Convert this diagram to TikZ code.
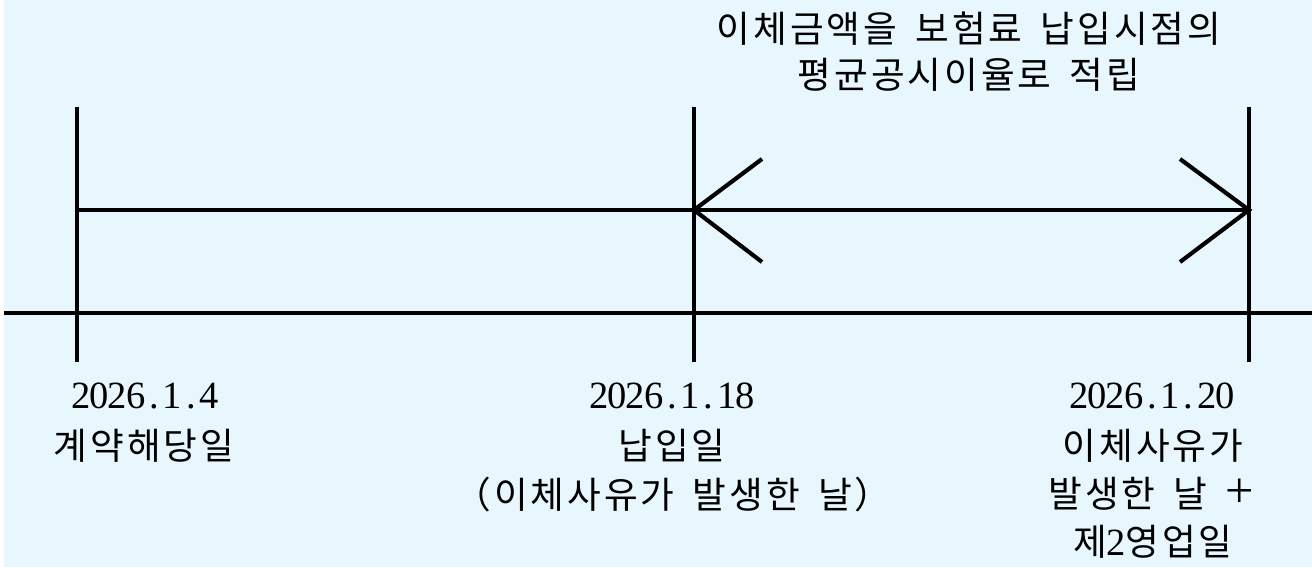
\documentclass[tikz,border=0pt]{standalone}
\usepackage{fontspec}
\setmainfont{Liberation Serif}
\newfontfamily\kr[LetterSpace=8]{Noto Sans CJK KR}
\newfontfamily\dg[Scale=1.05]{Liberation Serif}
\definecolor{bg}{RGB}{232,246,254}
\newcommand\hw[1]{\makebox[0.5em]{\dg #1}}
\newcommand\hsp{\hspace{0.5em}}
\begin{document}
\begin{tikzpicture}[x=0.75pt,y=-0.75pt,
  ln/.style={line width=3.1pt,black},
  lbl/.style={anchor=base,inner sep=0pt,font=\kr\fontsize{27.5}{33}\selectfont}]
\useasboundingbox (0,0) rectangle (1312,567);
\fill[white] (0,0) rectangle (1312,567);
\fill[bg] (4,0) rectangle (1312,567);
% coordinates
\coordinate (axL) at (4,313);
\coordinate (axR) at (1312,313);
\coordinate (aT) at (77,107);  \coordinate (aB) at (77,362);
\coordinate (bT) at (694,107); \coordinate (bB) at (694,362);
\coordinate (cT) at (1249,107);\coordinate (cB) at (1249,362);
\coordinate (uL) at (77,210);
\coordinate (uM) at (694,210);
\coordinate (uR) at (1249,210);
\coordinate (lh1) at (762,159); \coordinate (lh2) at (762,262);
\coordinate (rh1) at (1180,159); \coordinate (rh2) at (1180,262);
% lines
\draw[ln] (axL) -- (axR);
\draw[ln] (aT) -- (aB);
\draw[ln] (bT) -- (bB);
\draw[ln] (cT) -- (cB);
\draw[ln] (uL) -- (uR);
\draw[ln] (lh1) -- (uM) -- (lh2);
\draw[ln] (rh1) -- (uR) -- (rh2);
% title
\node[lbl] (t1) at (969,43) {이체금액을\hsp 보험료\hsp 납입시점의};
\node[lbl] (t2) at (969,89) {평균공시이율로\hsp 적립};
% left labels
\node[lbl] (a1) at (145,408) {\hw2\hw0\hw2\hw6\hw.\hw1\hw.\hw4};
\node[lbl] (a2) at (144,459) {계약해당일};
% middle labels
\node[lbl] (b1) at (672,408) {\hw2\hw0\hw2\hw6\hw.\hw1\hw.\hw1\hw8};
\node[lbl] (b2) at (672,459) {납입일};
\node[lbl] (b3) at (673,508) {（이체사유가\hsp 발생한\hsp 날）};
% right labels
\node[lbl] (c1) at (1152,408) {\hw2\hw0\hw2\hw6\hw.\hw1\hw.\hw2\hw0};
\node[lbl] (c2) at (1153,459) {이체사유가};
\node[lbl] (c3) at (1151,507) {발생한\hsp 날\hsp\makebox[0.75em]{\dg\fontsize{36}{36}\selectfont+}};
\node[lbl] (c4) at (1153,555) {제\hw2영업일};
\end{tikzpicture}
\end{document}
